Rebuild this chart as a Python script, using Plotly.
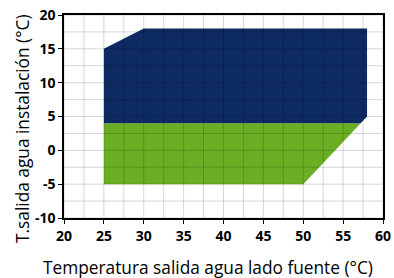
import plotly.graph_objects as go
import numpy as np

# envelope data (°C)
blue_x = [25, 25, 30, 58, 58, 57.2, 25]
blue_y = [4, 15, 18, 18, 5, 4, 4]
green_x = [25, 25, 57.2, 50, 25]
green_y = [-5, 4, 4, -5, -5]
x_ticks = [20, 25, 30, 35, 40, 45, 50, 55, 60]
y_ticks = [-10, -5, 0, 5, 10, 15, 20]
x_title = "Temperatura salida agua lado fuente (°C)"
y_title = "T.salida agua instalación (°C)"

fig = go.Figure()
fig.add_trace(go.Scatter(x=green_x, y=green_y, fill="toself", mode="lines",
                         line=dict(width=0), fillcolor="#6AAE23", hoverinfo="skip"))
fig.add_trace(go.Scatter(x=blue_x, y=blue_y, fill="toself", mode="lines",
                         line=dict(width=0), fillcolor="#0E2A62", hoverinfo="skip"))

shapes = []
for v in np.arange(20, 60.01, 2.5):
    shapes.append(dict(type="line", xref="x", yref="paper", x0=v, x1=v, y0=0, y1=1,
                       line=dict(color="rgba(0,0,0,0.16)", width=1), layer="above"))
for v in np.arange(-10, 20.01, 2.5):
    shapes.append(dict(type="line", xref="paper", yref="y", x0=0, x1=1, y0=v, y1=v,
                       line=dict(color="rgba(0,0,0,0.16)", width=1), layer="above"))

fig.update_layout(
    width=394, height=278,
    margin=dict(l=64, r=11, t=15, b=60, autoexpand=False),
    paper_bgcolor="white", plot_bgcolor="white",
    showlegend=False,
    shapes=shapes,
    font=dict(family="Open Sans", color="black"),
    annotations=[
        dict(text=x_title, xref="paper", yref="paper", x=0.45, y=-0.246,
             xanchor="center", yanchor="middle", showarrow=False, font=dict(size=17.3)),
        dict(text=y_title, xref="paper", yref="paper", x=-0.132, y=0.443, textangle=-90,
             xanchor="center", yanchor="middle", showarrow=False, font=dict(size=17.3)),
    ],
)
fig.update_xaxes(range=[20, 60], tickvals=x_ticks, ticktext=[f"<b>{v}</b>" for v in x_ticks],
                 showgrid=False, zeroline=False, showline=True, linecolor="black", linewidth=1.5,
                 mirror=True, ticks="outside", ticklen=4, tickcolor="black", automargin=False,
                 tickfont=dict(size=14, family="Open Sans"))
fig.update_yaxes(range=[-10, 20], tickvals=y_ticks, ticktext=[f"<b>{v}</b>" for v in y_ticks],
                 showgrid=False, zeroline=False, showline=True, linecolor="black", linewidth=1.5,
                 mirror=True, ticks="outside", ticklen=4, tickcolor="black", automargin=False,
                 tickfont=dict(size=14, family="Open Sans"))

fig.write_html("out.html", config={"displayModeBar": False},
               post_script="document.body.style.margin='0';document.body.style.overflow='hidden';")
